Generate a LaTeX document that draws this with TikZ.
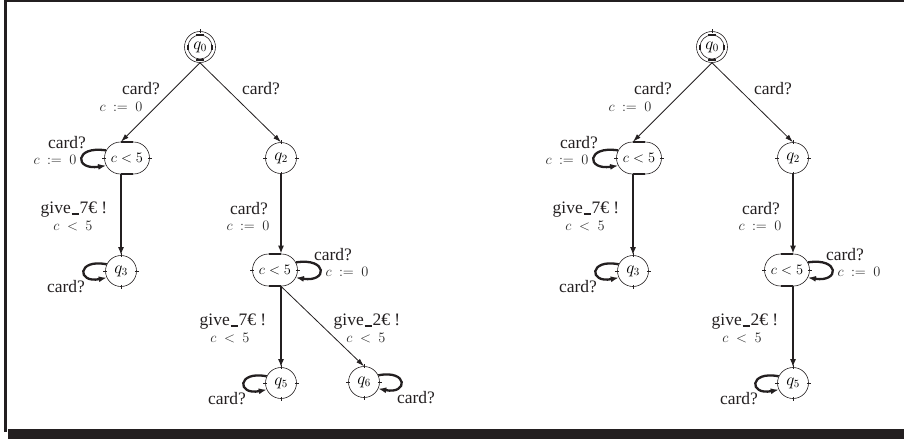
\documentclass[tikz,border=0pt]{standalone}
\usepackage[no-math]{fontspec}
\setmainfont{Liberation Serif}
\usetikzlibrary{arrows.meta,shapes.misc,calc}
\definecolor{framec}{RGB}{35,31,32}
\definecolor{inkc}{RGB}{35,31,32}
\newcommand\usc{\kern0.04em\rule[-0.6pt]{0.42em}{1.7pt}\kern0.04em}
\begin{document}
\begin{tikzpicture}[x=1pt,y=-1pt,
  state/.style={circle,draw=inkc,line width=0.6pt,minimum size=31pt,inner sep=0pt,font=\fontsize{16}{16}\selectfont},
  inv/.style={rounded rectangle,draw=inkc,line width=0.6pt,minimum width=45pt,minimum height=32pt,inner sep=0pt,font=\fontsize{14}{14}\selectfont},
  thinedge/.style={draw=inkc,line width=0.8pt,-{Latex[length=8pt,width=5pt]}},
  thickedge/.style={draw=inkc,line width=2.3pt,-{Latex[length=8pt,width=6pt]}},
  act/.style={font=\fontsize{17.5}{17.5}\selectfont,inner sep=0pt,text=inkc},
  grd/.style={font=\fontsize{14}{14}\selectfont,inner sep=0pt,text=black!85},
  tick/.style={draw=inkc,line width=0.5pt},
  bar/.style={draw=inkc,line width=2pt},
]
\useasboundingbox (0,0) rectangle (904,439);
% frame
\draw[framec,line width=3pt] (5.5,0) -- (5.5,432);
\draw[framec,line width=2pt] (4,1) -- (904,1);
\fill[framec] (8,428.5) rectangle (904,439);

% ================= left diagram =================
\node[state] (a0) at (200,47) {$q_0$};
\node[inv] (a1) at (127,158) {$c<5$};
\node[state] (a2) at (281,158) {$q_2$};
\node[state] (a3) at (121,271) {$q_3$};
\node[inv] (a4) at (275,270) {$c<5$};
\node[state] (a5) at (281,383) {$q_5$};
\node[state] (a6) at (364,382) {$q_6$};
\draw[draw=inkc,line width=0.6pt] (a0.center) circle (12pt);

\draw[thinedge] (a0.south) -- ($(a1.north)+(-6,0)$);
\draw[thinedge] (a0.south) -- (a2.north);
\draw[thickedge] ($(a1.south)+(-6,0)$) -- (a3.north);
\draw[thickedge] (a2.south) -- ($(a4.north)+(6,0)$);
\draw[thickedge] ($(a4.south)+(6,0)$) -- (a5.north);
\draw[thinedge] ($(a4.south)+(6,0)$) -- (a6.north);

\draw[thickedge] (a1.160) .. controls +(-32,-5) and +(-32,5) .. (a1.200);
\draw[thickedge] (a3.155) .. controls +(-30,-6) and +(-30,6) .. (a3.205);
\draw[thickedge] (a4.20) .. controls +(32,-5) and +(32,5) .. (a4.-20);
\draw[thickedge] (a5.155) .. controls +(-30,-6) and +(-30,6) .. (a5.205);
\draw[thickedge] (a6.25) .. controls +(30,-6) and +(30,6) .. (a6.-25);

\node[act] (la1) at (141,89) {card?};
\node[grd] (la1g) at (121,107) {$c\ :=\ 0$};
\node[act] (la2) at (261,89) {card?};
\node[act] (la3) at (67,143) {card?};
\node[grd] (la3g) at (55,160) {$c\ :=\ 0$};
\node[act] (la4) at (74,210) {give\usc 7€ !};
\node[grd] (la4g) at (73,226) {$c\ <\ 5$};
\node[act] (la5) at (66,287) {card?};
\node[act] (la6) at (249,209) {card?};
\node[grd] (la6g) at (248,226) {$c\ :=\ 0$};
\node[act] (la7) at (333,255) {card?};
\node[grd] (la7g) at (347,272) {$c\ :=\ 0$};
\node[act] (la8) at (233,322) {give\usc 7€ !};
\node[grd] (la8g) at (230,338) {$c\ <\ 5$};
\node[act] (la9) at (367,322) {give\usc 2€ !};
\node[grd] (la9g) at (366,338) {$c\ <\ 5$};
\node[act] (la10) at (227,399) {card?};
\node[act] (la11) at (416,398) {card?};

% ================= right diagram =================
\node[state] (b0) at (712,47) {$q_0$};
\node[inv] (b1) at (639,158) {$c<5$};
\node[state] (b2) at (793,158) {$q_2$};
\node[state] (b3) at (633,271) {$q_3$};
\node[inv] (b4) at (787,270) {$c<5$};
\node[state] (b5) at (793,383) {$q_5$};
\draw[draw=inkc,line width=0.6pt] (b0.center) circle (12pt);

\draw[thinedge] (b0.south) -- ($(b1.north)+(-6,0)$);
\draw[thinedge] (b0.south) -- (b2.north);
\draw[thickedge] ($(b1.south)+(-6,0)$) -- (b3.north);
\draw[thickedge] (b2.south) -- ($(b4.north)+(6,0)$);
\draw[thickedge] ($(b4.south)+(6,0)$) -- (b5.north);

\draw[thickedge] (b1.160) .. controls +(-32,-5) and +(-32,5) .. (b1.200);
\draw[thickedge] (b3.155) .. controls +(-30,-6) and +(-30,6) .. (b3.205);
\draw[thickedge] (b4.20) .. controls +(32,-5) and +(32,5) .. (b4.-20);
\draw[thickedge] (b5.155) .. controls +(-30,-6) and +(-30,6) .. (b5.205);

\node[act] (lb1) at (653,89) {card?};
\node[grd] (lb1g) at (630,107) {$c\ :=\ 0$};
\node[act] (lb2) at (773,89) {card?};
\node[act] (lb3) at (579,143) {card?};
\node[grd] (lb3g) at (567,160) {$c\ :=\ 0$};
\node[act] (lb4) at (586,210) {give\usc 7€ !};
\node[grd] (lb4g) at (585,226) {$c\ <\ 5$};
\node[act] (lb5) at (578,287) {card?};
\node[act] (lb6) at (761,209) {card?};
\node[grd] (lb6g) at (760,226) {$c\ :=\ 0$};
\node[act] (lb7) at (845,255) {card?};
\node[grd] (lb7g) at (859,272) {$c\ :=\ 0$};
\node[act] (lb8) at (745,322) {give\usc 2€ !};
\node[grd] (lb8g) at (742,338) {$c\ <\ 5$};
\node[act] (lb10) at (739,399) {card?};

% ticks and bars on states
\foreach \n in {a2,a3,a5,a6,b2,b3,b5}{
  \draw[tick] ($(\n.north)+(0,-2)$) -- ($(\n.north)+(0,2)$);
  \draw[tick] ($(\n.south)+(0,-2)$) -- ($(\n.south)+(0,2)$);
  \draw[tick] ($(\n.east)+(-2,0)$) -- ($(\n.east)+(2,0)$);
  \draw[tick] ($(\n.west)+(-2,0)$) -- ($(\n.west)+(2,0)$);
}
\foreach \n in {a0,b0}{
  \draw[tick] ($(\n.north)+(0,-2)$) -- ($(\n.north)+(0,2)$);
  \draw[bar] ($(\n.center)+(-4,-12.5)$) -- ($(\n.center)+(4,-12.5)$);
  \draw[bar] ($(\n.center)+(-4,12.5)$) -- ($(\n.center)+(4,12.5)$);
  \draw[bar] ($(\n.east)+(-3.5,-2.5)$) -- ($(\n.east)+(-3.5,2.5)$);
  \draw[bar] ($(\n.west)+(3.5,-2.5)$) -- ($(\n.west)+(3.5,2.5)$);
}
\foreach \n in {a1,a4,b1,b4}{
  \draw[bar] ($(\n.north)+(-6,0)$) -- ($(\n.north)+(6,0)$);
  \draw[bar] ($(\n.south)+(-6,0)$) -- ($(\n.south)+(6,0)$);
  \draw[tick] ($(\n.east)+(-2,0)$) -- ($(\n.east)+(2,0)$);
  \draw[tick] ($(\n.west)+(-2,0)$) -- ($(\n.west)+(2,0)$);
}
\end{tikzpicture}
\end{document}
